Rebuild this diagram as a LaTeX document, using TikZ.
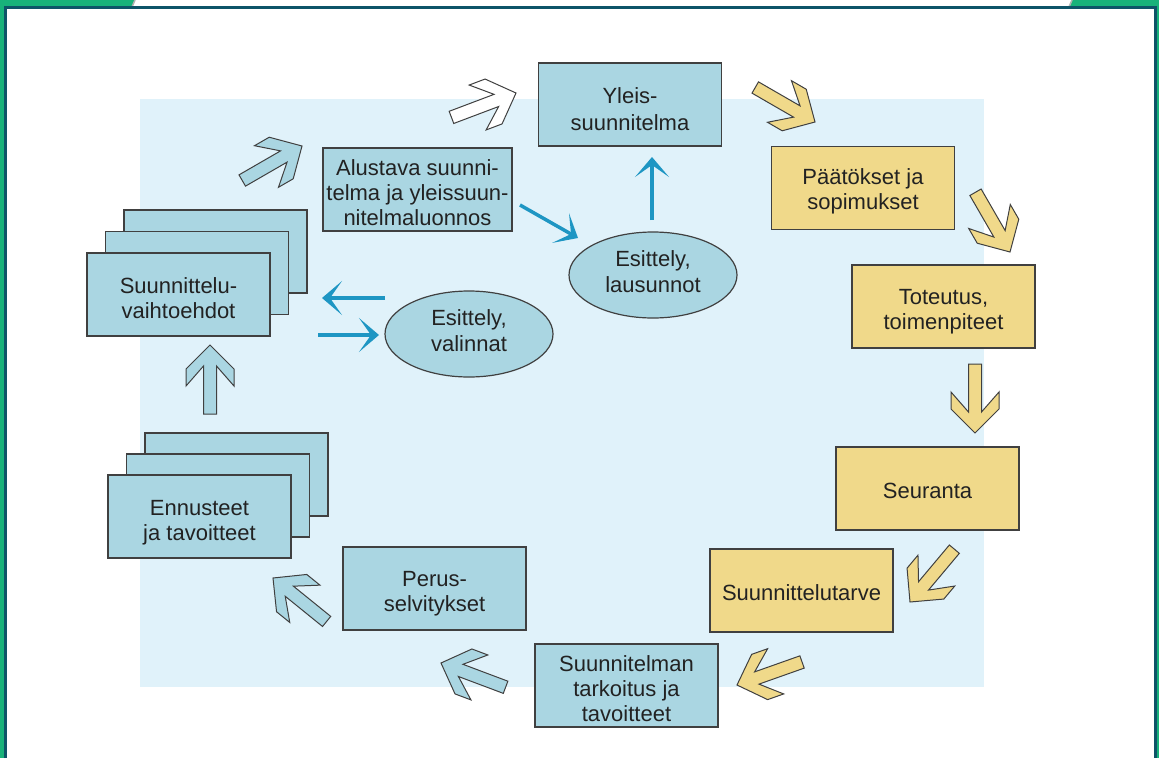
\documentclass[tikz,border=0pt]{standalone}
\usepackage{fontspec}
\setmainfont{Liberation Sans}
\usetikzlibrary{arrows.meta,shapes.geometric}
\definecolor{bgblue}{HTML}{E0F2FA}
\definecolor{boxblue}{HTML}{AAD6E2}
\definecolor{boxyel}{HTML}{F0D98A}
\definecolor{edge}{HTML}{404040}
\definecolor{thinblue}{HTML}{1E96C3}
\definecolor{frgreen}{HTML}{18B27A}
\definecolor{frteal}{HTML}{0D5468}
\definecolor{txt}{HTML}{222222}
\newcommand{\bigarrow}[4]{%
  \draw[bigarr, fill=#4, shift={(#1,#2)}, rotate=#3] (0,0) -- (-24,24) -- (-41,24) -- (-21,6.5) -- (-69,6.5) -- (-69,-6.5) -- (-21,-6.5) -- (-41,-24) -- (-24,-24) -- cycle;}
\tikzset{
  box/.style={draw=edge, line width=1.2pt, minimum width=183pt, minimum height=83pt, align=center, inner sep=0pt, font=\fontsize{22}{25}\selectfont, text=txt, text height=46pt, text depth=0pt},
  oneline/.style={text height=19pt},
  threeline/.style={text height=71pt},
  bluebox/.style={box, fill=boxblue},
  yelbox/.style={box, fill=boxyel},
  ell/.style={ellipse, draw=edge, line width=1.2pt, fill=boxblue, minimum width=168pt, minimum height=86pt, align=center, inner sep=0pt, font=\fontsize{22}{26}\selectfont, text=txt, text height=35pt, text depth=0pt},
  tharrow/.style={draw=thinblue, line width=3.5pt, -{Stealth[length=20pt,width=34pt,inset=12pt]}},
  bigarr/.style={draw=edge, line width=1pt, line join=miter}
}
\begin{document}
\begin{tikzpicture}[x=1pt,y=-1pt]
\useasboundingbox (0,0) rectangle (1159,758);
\fill[white] (0,0) rectangle (1159,758);
% frame
\fill[frgreen] (0,0) rectangle (4,758);
\fill[frgreen] (1157,0) rectangle (1159,758);
\fill[frgreen] (0,0) -- (135,0) -- (132,7) -- (0,7) -- cycle;
\fill[frgreen] (1072,0) -- (1159,0) -- (1159,7) -- (1069,7) -- cycle;
\draw[black!30, line width=1.5pt] (135,0) -- (132,7);
\draw[black!30, line width=1.5pt] (1072,0) -- (1069,7);
\draw[frteal, line width=3pt] (5.5,758) -- (5.5,7.5) -- (1155.5,7.5) -- (1155.5,758);
% background
\fill[bgblue] (140,99) rectangle (984,687);
% boxes
\node[bluebox, font=\fontsize{22}{27}\selectfont, text height=51pt] (yleis) at (630,104.5) {Yleis-\\suunnitelma};
\node[bluebox, threeline, minimum width=189pt] (alus) at (417.5,189.5) {Alustava suunni-\\telma ja yleissuun-\\nitelmaluonnos};
\node[yelbox, text height=43pt] (paat) at (863,188) {Päätökset ja\\sopimukset};
\node[yelbox] (tot) at (943.5,306.5) {Toteutus,\\toimenpiteet};
\node[yelbox, oneline] (seur) at (927.5,488.5) {Seuranta};
\node[yelbox, oneline] (tarve) at (801.5,590.5) {Suunnittelutarve};
\node[bluebox, threeline] (tark) at (626.5,685.5) {Suunnitelman\\tarkoitus ja\\tavoitteet};
\node[bluebox] (perus) at (434.5,588.5) {Perus-\\selvitykset};
\node[bluebox] (enn3) at (236.5,474.5) {};
\node[bluebox] (enn2) at (218,495.5) {};
\node[bluebox, text height=47pt] (enn) at (199.5,516.5) {Ennusteet\\ja tavoitteet};
\node[bluebox] (vaiht3) at (215.5,251.5) {};
\node[bluebox] (vaiht2) at (197,273) {};
\node[bluebox, text height=48pt] (vaiht) at (178.5,294.5) {Suunnittelu-\\vaihtoehdot};
\node[ell] (lau) at (653,275) {Esittely,\\lausunnot};
\node[ell] (val) at (469,334) {Esittely,\\valinnat};
% thin arrows
\coordinate (a1) at (520,205); \coordinate (a2) at (578,238);
\coordinate (b1) at (652,220); \coordinate (b2) at (652,157);
\coordinate (c1) at (385,298); \coordinate (c2) at (322,298);
\coordinate (d1) at (318,335); \coordinate (d2) at (379,335);
\draw[tharrow] (a1) -- (a2);
\draw[tharrow] (b1) -- (b2);
\draw[tharrow] (c1) -- (c2);
\draw[tharrow] (d1) -- (d2);
% block arrows
\bigarrow{516}{93}{20.7}{white}
\bigarrow{815}{122}{-30}{boxyel}
\bigarrow{1010}{252}{-60}{boxyel}
\bigarrow{975}{433}{-90}{boxyel}
\bigarrow{910}{602}{230}{boxyel}
\bigarrow{737}{685}{199.5}{boxyel}
\bigarrow{441}{663}{159.4}{boxblue}
\bigarrow{273}{578}{141}{boxblue}
\bigarrow{210}{345}{90}{boxblue}
\bigarrow{302}{146}{30}{boxblue}
\end{tikzpicture}
\end{document}
